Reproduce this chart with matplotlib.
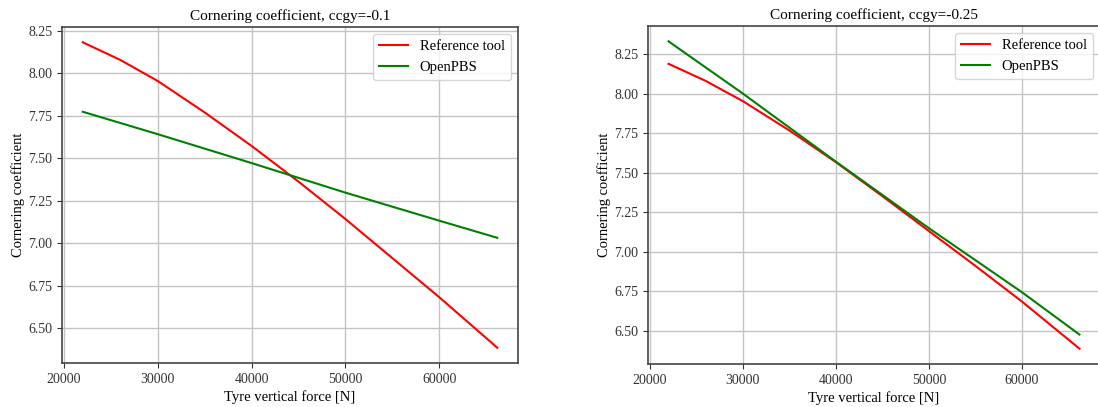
import matplotlib
matplotlib.use("Agg")
import matplotlib.pyplot as plt

# ---- data ----
force_ref = [22000, 26000, 30000, 35000, 40000, 45000, 50000, 55000, 60000, 66200]
ref_left = [8.183, 8.079, 7.955, 7.770, 7.573, 7.363, 7.143, 6.913, 6.683, 6.385]
ref_right = [8.188, 8.080, 7.952, 7.767, 7.567, 7.352, 7.132, 6.912, 6.687, 6.389]

force_pbs = [22000, 30000, 40000, 50000, 60000, 66200]
pbs_left = [7.774, 7.642, 7.472, 7.298, 7.133, 7.032]
pbs_right = [8.330, 8.000, 7.570, 7.150, 6.746, 6.478]

titles = ["Cornering coefficient, ccgy=-0.1", "Cornering coefficient, ccgy=-0.25"]
series_names = ["Reference tool", "OpenPBS"]
xlabel = "Tyre vertical force [N]"
ylabel = "Cornering coefficient"

plt.rcParams['font.family'] = ['Liberation Serif', 'DejaVu Serif']
plt.rcParams['font.size'] = 10.5

W, H = 1098, 407
fig = plt.figure(figsize=(W / 100, H / 100), dpi=100)

def px_axes(l, r, t, b):
    return [l / W, 1 - b / H, (r - l) / W, (b - t) / H]

ax1 = fig.add_axes(px_axes(62, 518, 27, 363))
ax2 = fig.add_axes(px_axes(648, 1100, 26, 364))

panels = [(ax1, ref_left, pbs_left, titles[0]), (ax2, ref_right, pbs_right, titles[1])]
for ax, ref, pbs, title in panels:
    ax.plot(force_ref, ref, color='red', lw=1.5, label=series_names[0])
    ax.plot(force_pbs, pbs, color='green', lw=1.5, label=series_names[1])
    ax.set_title(title, fontsize=11, pad=5)
    ax.set_xlabel(xlabel, fontsize=10.5, labelpad=3)
    ax.set_ylabel(ylabel, fontsize=10.5, labelpad=2)
    ax.set_xticks([20000, 30000, 40000, 50000, 60000])
    ax.set_yticks([6.50, 6.75, 7.00, 7.25, 7.50, 7.75, 8.00, 8.25])
    ax.yaxis.set_major_formatter(matplotlib.ticker.FormatStrFormatter('%.2f'))
    ax.grid(True, color='#c4c4c4', lw=1.0)
    ax.tick_params(labelsize=10, colors='#333333', length=3.5)
    for s in ax.spines.values():
        s.set_color('#444444')
        s.set_linewidth(1.2)
    ax.legend(loc='upper right', fontsize=10.5, framealpha=0.8,
              edgecolor='#cccccc', fancybox=True)

fig.savefig("out.png", dpi=100)
